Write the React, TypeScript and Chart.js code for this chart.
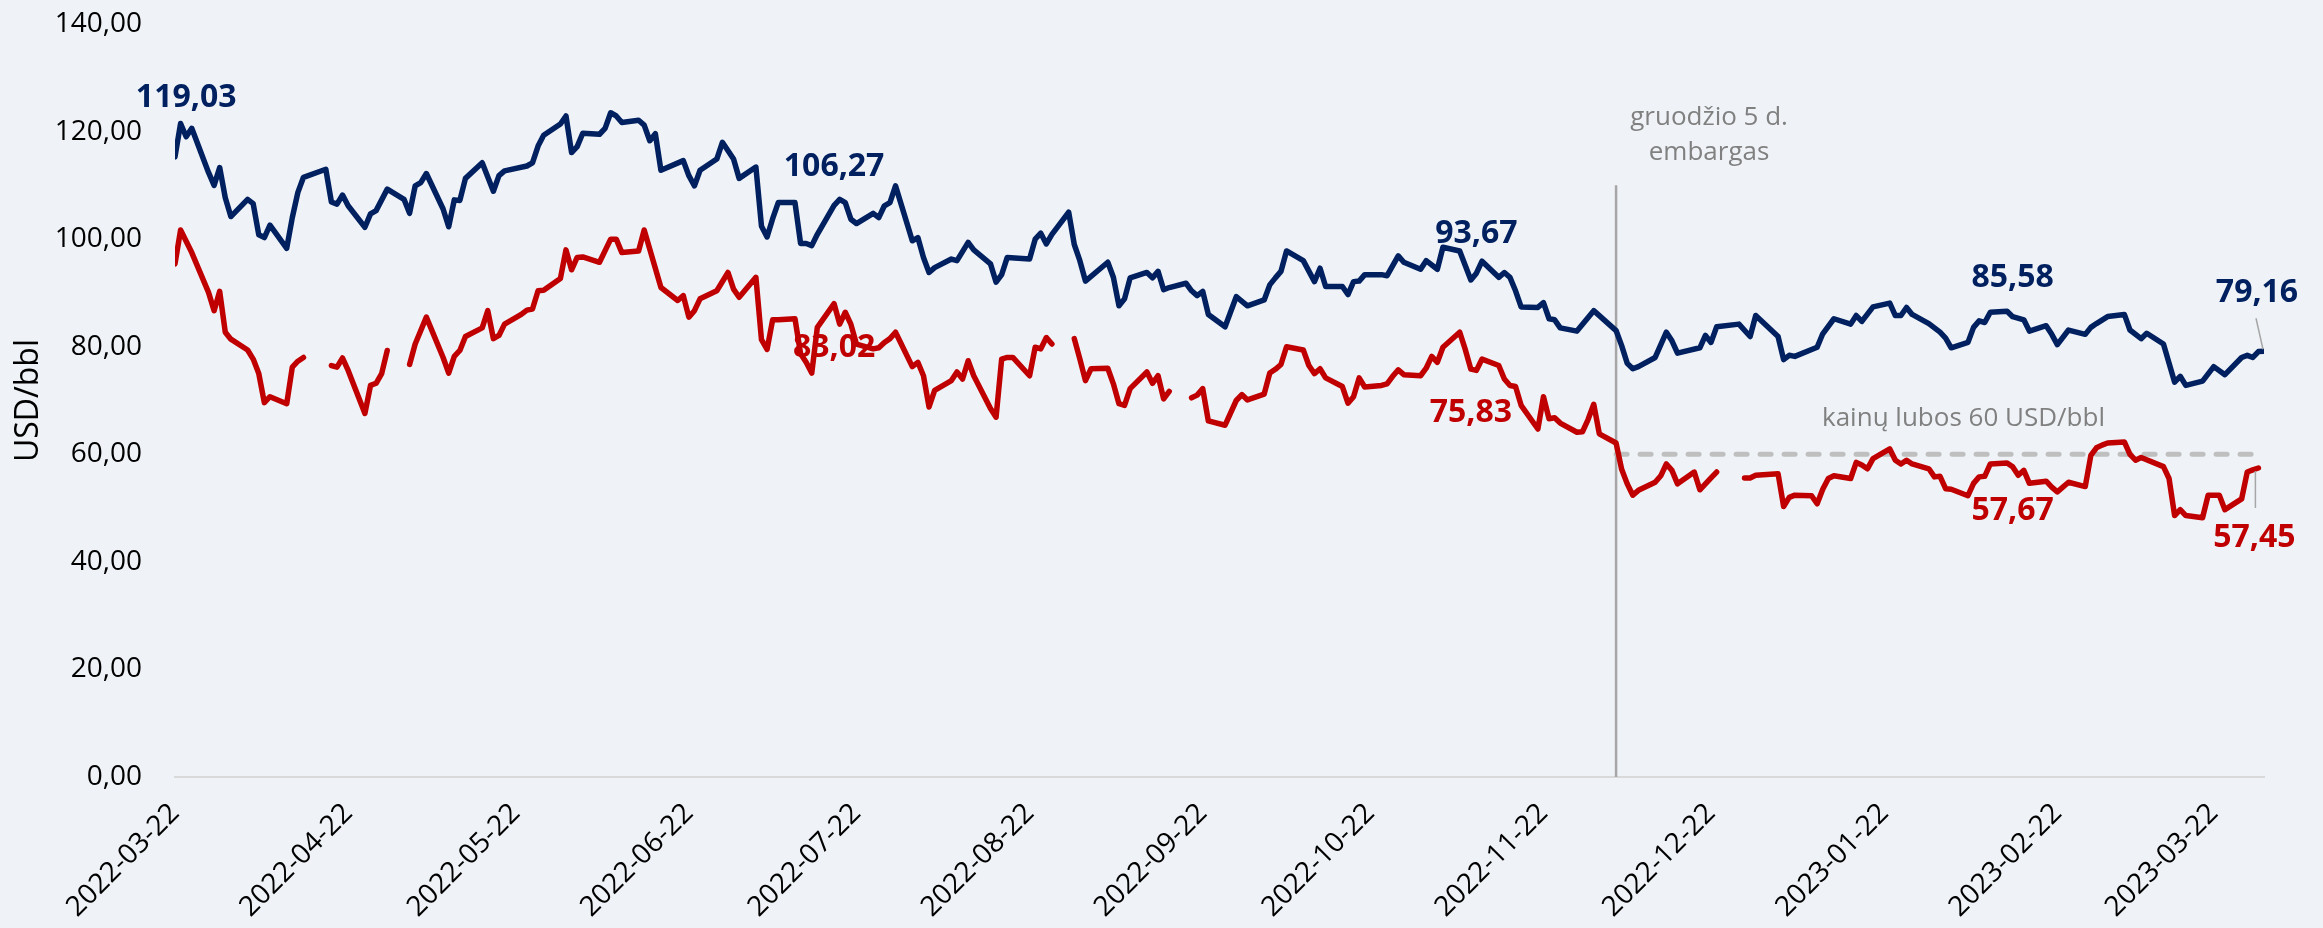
import React, { useEffect, useRef } from "react";
import { Chart, registerables } from "chart.js";

Chart.register(...registerables);

// ---------- data ----------
const startDate = "2022-03-22";
const endDate = "2023-03-31";

const tickDates = [
  "2022-03-22", "2022-04-22", "2022-05-22", "2022-06-22", "2022-07-22", "2022-08-22",
  "2022-09-22", "2022-10-22", "2022-11-22", "2022-12-22", "2023-01-22", "2023-02-22", "2023-03-22",
];

const yTickValues = [0, 20, 40, 60, 80, 100, 120, 140];

const brentDates = [
  "2022-03-22", "2022-03-23", "2022-03-24", "2022-03-25", "2022-03-28", "2022-03-29", "2022-03-30", "2022-03-31",
  "2022-04-01", "2022-04-04", "2022-04-05", "2022-04-06", "2022-04-07", "2022-04-08", "2022-04-11", "2022-04-12",
  "2022-04-13", "2022-04-14", "2022-04-18", "2022-04-19", "2022-04-20", "2022-04-21", "2022-04-22", "2022-04-25",
  "2022-04-26", "2022-04-27", "2022-04-29", "2022-05-02", "2022-05-03", "2022-05-04", "2022-05-05", "2022-05-06",
  "2022-05-09", "2022-05-10", "2022-05-11", "2022-05-12", "2022-05-13", "2022-05-16", "2022-05-18", "2022-05-19",
  "2022-05-20", "2022-05-24", "2022-05-25", "2022-05-26", "2022-05-27", "2022-05-30", "2022-05-31", "2022-06-01",
  "2022-06-02", "2022-06-03", "2022-06-06", "2022-06-07", "2022-06-08", "2022-06-09", "2022-06-10", "2022-06-13",
  "2022-06-14", "2022-06-15", "2022-06-16", "2022-06-17", "2022-06-21", "2022-06-22", "2022-06-23", "2022-06-24",
  "2022-06-27", "2022-06-28", "2022-06-30", "2022-07-01", "2022-07-04", "2022-07-05", "2022-07-06", "2022-07-07",
  "2022-07-08", "2022-07-11", "2022-07-12", "2022-07-13", "2022-07-14", "2022-07-15", "2022-07-18", "2022-07-19",
  "2022-07-20", "2022-07-21", "2022-07-22", "2022-07-25", "2022-07-26", "2022-07-27", "2022-07-28", "2022-07-29",
  "2022-08-01", "2022-08-02", "2022-08-03", "2022-08-04", "2022-08-05", "2022-08-08", "2022-08-09", "2022-08-11",
  "2022-08-12", "2022-08-15", "2022-08-16", "2022-08-17", "2022-08-18", "2022-08-22", "2022-08-23", "2022-08-24",
  "2022-08-25", "2022-08-26", "2022-08-29", "2022-08-30", "2022-08-31", "2022-09-01", "2022-09-05", "2022-09-06",
  "2022-09-07", "2022-09-08", "2022-09-09", "2022-09-12", "2022-09-13", "2022-09-14", "2022-09-15", "2022-09-16",
  "2022-09-19", "2022-09-20", "2022-09-21", "2022-09-22", "2022-09-23", "2022-09-26", "2022-09-28", "2022-09-30",
  "2022-10-03", "2022-10-04", "2022-10-05", "2022-10-06", "2022-10-07", "2022-10-10", "2022-10-12", "2022-10-13",
  "2022-10-14", "2022-10-17", "2022-10-18", "2022-10-19", "2022-10-20", "2022-10-21", "2022-10-24", "2022-10-25",
  "2022-10-27", "2022-10-28", "2022-10-31", "2022-11-01", "2022-11-03", "2022-11-04", "2022-11-07", "2022-11-08",
  "2022-11-09", "2022-11-10", "2022-11-11", "2022-11-14", "2022-11-15", "2022-11-16", "2022-11-17", "2022-11-18",
  "2022-11-21", "2022-11-22", "2022-11-23", "2022-11-24", "2022-11-25", "2022-11-28", "2022-12-01", "2022-12-05",
  "2022-12-06", "2022-12-07", "2022-12-08", "2022-12-09", "2022-12-12", "2022-12-14", "2022-12-15", "2022-12-16",
  "2022-12-20", "2022-12-21", "2022-12-22", "2022-12-23", "2022-12-27", "2022-12-29", "2022-12-30", "2023-01-03",
  "2023-01-04", "2023-01-05", "2023-01-06", "2023-01-10", "2023-01-11", "2023-01-13", "2023-01-16", "2023-01-17",
  "2023-01-18", "2023-01-20", "2023-01-23", "2023-01-24", "2023-01-25", "2023-01-26", "2023-01-27", "2023-01-30",
  "2023-02-01", "2023-02-02", "2023-02-03", "2023-02-06", "2023-02-07", "2023-02-08", "2023-02-09", "2023-02-10",
  "2023-02-13", "2023-02-14", "2023-02-16", "2023-02-17", "2023-02-20", "2023-02-21", "2023-02-22", "2023-02-24",
  "2023-02-27", "2023-02-28", "2023-03-01", "2023-03-03", "2023-03-06", "2023-03-07", "2023-03-09", "2023-03-10",
  "2023-03-13", "2023-03-15", "2023-03-16", "2023-03-17", "2023-03-20", "2023-03-22", "2023-03-24", "2023-03-27",
  "2023-03-28", "2023-03-29", "2023-03-30", "2023-03-31",
];

const brentValues = [
  115.3, 121.5, 119.03, 120.6, 112.4, 110.0, 113.3, 107.7,
  104.2, 107.4, 106.6, 100.8, 100.3, 102.6, 98.3, 104.0,
  108.7, 111.5, 113.0, 106.9, 106.5, 108.2, 106.2, 102.2,
  104.7, 105.3, 109.3, 107.4, 104.8, 109.9, 110.5, 112.2,
  105.6, 102.3, 107.3, 107.2, 111.3, 114.2, 108.9, 111.8,
  112.7, 113.6, 114.2, 117.3, 119.3, 121.4, 122.9, 116.1,
  117.2, 119.7, 119.5, 120.6, 123.5, 122.9, 121.7, 122.1,
  121.2, 118.3, 119.6, 112.8, 114.6, 111.8, 109.9, 112.8,
  114.9, 118.0, 114.9, 111.3, 113.4, 102.4, 100.4, 103.8,
  106.8, 106.8, 99.2, 99.2, 98.8, 100.9, 106.27, 107.4,
  106.8, 103.7, 102.9, 104.8, 104.0, 106.2, 106.8, 109.9,
  99.7, 100.3, 96.6, 93.8, 94.7, 96.3, 96.0, 99.4,
  98.0, 95.4, 92.0, 93.4, 96.6, 96.3, 100.0, 101.1,
  99.1, 100.9, 105.0, 99.0, 96.0, 92.2, 95.7, 92.9,
  87.6, 88.9, 92.8, 93.8, 92.8, 94.0, 90.6, 91.0,
  91.8, 90.4, 89.5, 90.3, 86.0, 83.7, 89.3, 87.6,
  88.7, 91.5, 92.8, 94.0, 97.8, 96.0, 92.1, 94.6,
  91.2, 91.2, 89.7, 92.1, 92.2, 93.4, 93.4, 93.2,
  96.9, 95.7, 94.4, 96.0, 94.4, 98.5, 97.8, 95.1,
  92.4, 93.67, 95.9, 92.9, 93.8, 92.9, 90.4, 87.4,
  87.3, 88.2, 85.2, 85.0, 83.5, 82.9, 86.7, 83.0,
  80.2, 76.9, 75.9, 76.3, 78.0, 82.7, 81.1, 78.8,
  79.8, 82.1, 80.8, 83.7, 84.2, 81.9, 85.8, 81.9,
  77.6, 78.4, 78.2, 79.9, 82.4, 85.2, 84.2, 85.8,
  84.7, 87.4, 88.1, 85.8, 85.8, 87.3, 86.0, 84.3,
  82.7, 81.6, 79.8, 80.8, 83.6, 84.8, 84.5, 86.4,
  86.6, 85.58, 85.0, 82.9, 83.9, 82.3, 80.4, 83.1,
  82.3, 83.6, 84.3, 85.6, 86.0, 83.1, 81.5, 82.5,
  80.5, 73.4, 74.5, 72.8, 73.6, 76.3, 74.8, 78.0,
  78.4, 78.0, 79.1, 79.16,
];

const uralsDates = [
  "2022-03-22", "2022-03-23", "2022-03-25", "2022-03-28", "2022-03-29", "2022-03-30", "2022-03-31", "2022-04-01",
  "2022-04-04", "2022-04-05", "2022-04-06", "2022-04-07", "2022-04-08", "2022-04-11", "2022-04-12", "2022-04-13",
  "2022-04-14", "2022-04-18", "2022-04-19", "2022-04-20", "2022-04-21", "2022-04-22", "2022-04-25", "2022-04-26",
  "2022-04-27", "2022-04-28", "2022-04-29", "2022-05-02", "2022-05-03", "2022-05-04", "2022-05-06", "2022-05-09",
  "2022-05-10", "2022-05-11", "2022-05-12", "2022-05-13", "2022-05-16", "2022-05-17", "2022-05-18", "2022-05-19",
  "2022-05-20", "2022-05-23", "2022-05-24", "2022-05-25", "2022-05-26", "2022-05-27", "2022-05-30", "2022-05-31",
  "2022-06-01", "2022-06-02", "2022-06-03", "2022-06-06", "2022-06-08", "2022-06-09", "2022-06-10", "2022-06-13",
  "2022-06-14", "2022-06-17", "2022-06-20", "2022-06-21", "2022-06-22", "2022-06-23", "2022-06-24", "2022-06-27",
  "2022-06-29", "2022-06-30", "2022-07-01", "2022-07-04", "2022-07-05", "2022-07-06", "2022-07-07", "2022-07-08",
  "2022-07-11", "2022-07-12", "2022-07-13", "2022-07-14", "2022-07-15", "2022-07-18", "2022-07-19", "2022-07-20",
  "2022-07-21", "2022-07-22", "2022-07-25", "2022-07-26", "2022-07-27", "2022-07-28", "2022-07-29", "2022-08-01",
  "2022-08-02", "2022-08-03", "2022-08-04", "2022-08-05", "2022-08-08", "2022-08-09", "2022-08-10", "2022-08-11",
  "2022-08-12", "2022-08-15", "2022-08-16", "2022-08-17", "2022-08-18", "2022-08-19", "2022-08-22", "2022-08-23",
  "2022-08-24", "2022-08-25", "2022-08-26", "2022-08-29", "2022-08-30", "2022-08-31", "2022-09-01", "2022-09-02",
  "2022-09-05", "2022-09-06", "2022-09-07", "2022-09-08", "2022-09-09", "2022-09-12", "2022-09-13", "2022-09-14",
  "2022-09-15", "2022-09-16", "2022-09-19", "2022-09-20", "2022-09-21", "2022-09-22", "2022-09-23", "2022-09-26",
  "2022-09-28", "2022-09-29", "2022-09-30", "2022-10-03", "2022-10-04", "2022-10-05", "2022-10-06", "2022-10-07",
  "2022-10-10", "2022-10-11", "2022-10-12", "2022-10-13", "2022-10-14", "2022-10-17", "2022-10-18", "2022-10-19",
  "2022-10-20", "2022-10-21", "2022-10-24", "2022-10-25", "2022-10-26", "2022-10-27", "2022-10-28", "2022-10-31",
  "2022-11-01", "2022-11-02", "2022-11-03", "2022-11-04", "2022-11-07", "2022-11-08", "2022-11-09", "2022-11-10",
  "2022-11-11", "2022-11-14", "2022-11-15", "2022-11-16", "2022-11-17", "2022-11-18", "2022-11-21", "2022-11-22",
  "2022-11-23", "2022-11-24", "2022-11-25", "2022-11-28", "2022-11-29", "2022-11-30", "2022-12-01", "2022-12-02",
  "2022-12-05", "2022-12-06", "2022-12-07", "2022-12-08", "2022-12-09", "2022-12-12", "2022-12-13", "2022-12-14",
  "2022-12-15", "2022-12-16", "2022-12-19", "2022-12-20", "2022-12-21", "2022-12-22", "2022-12-23", "2022-12-27",
  "2022-12-28", "2022-12-29", "2022-12-30", "2023-01-03", "2023-01-04", "2023-01-05", "2023-01-06", "2023-01-09",
  "2023-01-10", "2023-01-11", "2023-01-12", "2023-01-13", "2023-01-16", "2023-01-17", "2023-01-18", "2023-01-19",
  "2023-01-20", "2023-01-23", "2023-01-24", "2023-01-25", "2023-01-26", "2023-01-27", "2023-01-30", "2023-01-31",
  "2023-02-01", "2023-02-02", "2023-02-03", "2023-02-06", "2023-02-07", "2023-02-08", "2023-02-09", "2023-02-10",
  "2023-02-13", "2023-02-14", "2023-02-15", "2023-02-16", "2023-02-17", "2023-02-20", "2023-02-21", "2023-02-22",
  "2023-02-24", "2023-02-27", "2023-02-28", "2023-03-01", "2023-03-02", "2023-03-03", "2023-03-06", "2023-03-07",
  "2023-03-08", "2023-03-09", "2023-03-13", "2023-03-14", "2023-03-15", "2023-03-16", "2023-03-17", "2023-03-20",
  "2023-03-21", "2023-03-23", "2023-03-24", "2023-03-27", "2023-03-28", "2023-03-29", "2023-03-30",
];

const uralsValues: (number | null)[] = [
  95.4, 101.7, 97.5, 90.1, 86.7, 90.3, 82.7, 81.4,
  79.4, 77.7, 75.0, 69.6, 70.7, 69.4, 76.2, 77.3,
  78.0, null, 76.5, 76.2, 77.9, 75.6, 67.6, 72.8,
  73.2, 75.0, 79.3, null, 76.7, 80.5, 85.5, 78.0,
  75.1, 78.2, 79.3, 81.9, 83.5, 86.7, 81.5, 82.1,
  84.2, 86.0, 86.8, 87.0, 90.4, 90.5, 92.7, 98.0,
  94.3, 96.6, 96.7, 95.7, 100.0, 100.0, 97.5, 97.8,
  101.7, 91.0, 88.6, 89.5, 85.5, 86.7, 88.9, 90.4,
  93.8, 90.7, 89.2, 92.9, 81.3, 79.5, 85.0, 85.0,
  85.2, 78.7, 77.1, 75.1, 83.6, 88.0, 84.2, 86.4,
  84.2, 80.5, 79.6, 79.8, 80.8, 81.5, 82.7, 76.3,
  77.1, 74.6, 68.8, 71.9, 73.7, 75.3, 74.0, 77.4,
  74.6, 68.5, 66.9, 77.7, 78.0, 78.0, 74.6, 79.9,
  79.6, 81.7, 80.5, null, 81.5, 77.7, 73.7, 75.9,
  76.0, 73.1, 69.4, 69.1, 72.2, 75.3, 73.2, 74.6,
  70.3, 71.7, null, 70.5, 71.0, 72.2, 66.2, 65.4,
  70.0, 71.1, 70.1, 71.2, 75.1, 75.8, 76.7, 80.0,
  79.4, 76.5, 75.0, 75.9, 74.2, 72.6, 69.5, 70.7,
  74.2, 72.5, 72.8, 73.1, 74.5, 75.7, 74.8, 74.6,
  76.0, 78.2, 77.1, 79.9, 82.7, 79.5, 75.83, 75.6,
  77.7, 76.5, 74.0, 72.8, 72.6, 69.1, 64.7, 70.7,
  66.6, 66.8, 65.8, 64.1, 64.2, 66.5, 69.3, 63.8,
  62.1, 57.2, 54.5, 52.4, 53.3, 54.8, 56.0, 58.2,
  57.0, 54.5, 56.7, 53.4, 54.5, 55.6, 56.7, null,
  55.6, 55.6, 56.1, 56.4, 50.3, 52.0, 52.4, 52.3,
  50.8, 53.5, 55.5, 56.0, 55.5, 58.5, 58.0, 57.3,
  59.2, 61.0, 58.9, 58.2, 58.9, 58.2, 57.3, 55.8,
  55.9, 53.6, 53.5, 52.3, 54.6, 55.8, 55.9, 58.2,
  58.4, 57.67, 56.1, 57.0, 54.6, 55.0, 53.9, 53.0,
  54.8, 54.0, 59.8, 61.2, 61.7, 62.1, 62.3, 60.0,
  58.9, 59.4, 57.7, 55.5, 48.6, 49.7, 48.6, 48.2,
  52.4, 52.4, 49.7, 51.7, 56.7, 57.1, 57.45,
];

// value labels (text shown next to selected points)
const brentLabelDates = ["2022-03-24", "2022-07-18", "2022-11-10", "2023-02-14", "2023-03-31"];
const brentLabelTexts = ["119,03", "106,27", "93,67", "85,58", "79,16"];
const uralsLabelDates = ["2022-07-18", "2022-11-09", "2023-02-14", "2023-03-30"];
const uralsLabelTexts = ["83,02", "75,83", "57,67", "57,45"];

// annotations
const embargoDate = "2022-12-05";
const embargoSpan = [0, 110];
const embargoText = ["gruodžio 5 d.", "embargas"];
const capDates = ["2022-12-05", "2023-03-30"];
const capValues = [60, 60];
const capText = "kainų lubos 60 USD/bbl";
const yAxisTitle = "USD/bbl";

// ---------- helpers / styles ----------
const dayOf = (d: string) =>
  Math.round((Date.parse(d + "T00:00:00Z") - Date.parse(startDate + "T00:00:00Z")) / 86400000);

const BG = "#eff3f7";
const BLUE = "#002060";
const RED = "#c00000";
const GREY_TEXT = "#808080";
const FONT = '"Open Sans", "DejaVu Sans", sans-serif';

const W = 2323;
const H = 928;

const brentOffsets = [
  { dx: 0, dy: -39 },
  { dx: 0, dy: -39 },
  { dx: 0, dy: -39 },
  { dx: 0, dy: -39 },
  { dx: -7, dy: -58, leader: [-8, -33, -1, -2] },
];
const uralsOffsets = [
  { dx: 0, dy: 44 },
  { dx: 0, dy: 44 },
  { dx: 0, dy: 44 },
  { dx: -4, dy: 70, leader: [-3, 3, -3, 40] },
];

const fmt = (v: number) => v.toFixed(2).replace(".", ",");

export default function App() {
  const ref = useRef<HTMLCanvasElement | null>(null);

  useEffect(() => {
    document.body.style.margin = "0";
    document.body.style.background = BG;
    const canvas = ref.current;
    if (!canvas) return;

    const brentData = brentDates.map((d, i) => ({ x: dayOf(d), y: brentValues[i] }));
    const uralsData = uralsDates.map((d, i) => ({ x: dayOf(d), y: uralsValues[i] }));
    const embargoData = embargoSpan.map((v) => ({ x: dayOf(embargoDate), y: v }));
    const capData = capDates.map((d, i) => ({ x: dayOf(d), y: capValues[i] }));
    const tickDays = tickDates.map(dayOf);

    const bgPlugin = {
      id: "bg",
      beforeDraw(chart: any) {
        const { ctx } = chart;
        ctx.save();
        ctx.fillStyle = BG;
        ctx.fillRect(0, 0, chart.width, chart.height);
        ctx.restore();
      },
    };

    const annotationPlugin = {
      id: "annotations",
      afterDatasetsDraw(chart: any) {
        const { ctx } = chart;
        const xs = chart.scales.x;
        const ys = chart.scales.y;
        ctx.save();

        // embargo text
        const ex = xs.getPixelForValue(dayOf(embargoDate));
        const topY = ys.getPixelForValue(140);
        ctx.fillStyle = GREY_TEXT;
        ctx.font = `26px ${FONT}`;
        ctx.textAlign = "center";
        ctx.textBaseline = "middle";
        ctx.fillText(embargoText[0], ex + 93, topY + 94);
        ctx.fillText(embargoText[1], ex + 93, topY + 129);

        // cap text
        const cy = ys.getPixelForValue(capValues[0]);
        ctx.textAlign = "right";
        ctx.fillText(capText, chart.chartArea.right - 159, cy - 36);

        // value labels
        const drawLabels = (
          dates: string[],
          texts: string[],
          offs: any[],
          sDates: string[],
          sValues: (number | null)[],
          color: string
        ) => {
          dates.forEach((d, i) => {
            const idx = sDates.indexOf(d);
            const v = sValues[idx] as number;
            const px = xs.getPixelForValue(dayOf(d));
            const py = ys.getPixelForValue(v);
            const o = offs[i];
            if (o.leader) {
              ctx.strokeStyle = "#a6a6a6";
              ctx.lineWidth = 1.5;
              ctx.beginPath();
              ctx.moveTo(px + o.leader[0], py + o.leader[1]);
              ctx.lineTo(px + o.leader[2], py + o.leader[3]);
              ctx.stroke();
            }
            ctx.fillStyle = color;
            ctx.font = `bold 32px ${FONT}`;
            ctx.textAlign = "center";
            ctx.textBaseline = "middle";
            ctx.fillText(texts[i], px + o.dx, py + o.dy);
          });
        };
        drawLabels(brentLabelDates, brentLabelTexts, brentOffsets, brentDates, brentValues, BLUE);
        drawLabels(uralsLabelDates, uralsLabelTexts, uralsOffsets, uralsDates, uralsValues, RED);
        ctx.restore();
      },
    };

    const chart = new Chart(canvas, {
      type: "line",
      data: {
        datasets: [
          {
            label: "Brent",
            data: brentData,
            borderColor: BLUE,
            borderWidth: 5.5,
            pointRadius: 0,
            tension: 0,
            borderJoinStyle: "round",
            borderCapStyle: "round",
          },
          {
            label: "Urals",
            data: uralsData,
            borderColor: RED,
            borderWidth: 5.5,
            pointRadius: 0,
            tension: 0,
            spanGaps: false,
            borderJoinStyle: "round",
            borderCapStyle: "round",
          },
          {
            label: "cap",
            data: capData,
            borderColor: "#bfbfbf",
            borderWidth: 5,
            borderDash: [11, 13],
            borderCapStyle: "round",
            pointRadius: 0,
          },
          {
            label: "embargo",
            data: embargoData,
            borderColor: "#a6a6a6",
            borderWidth: 2.5,
            pointRadius: 0,
          },
        ],
      },
      options: {
        animation: false,
        responsive: false,
        devicePixelRatio: 1,
        layout: { padding: { top: 24, right: 59, left: 0, bottom: 0 } },
        plugins: {
          legend: { display: false },
          tooltip: { enabled: false },
        },
        scales: {
          x: {
            type: "linear",
            min: 0,
            max: dayOf(endDate),
            afterBuildTicks: (scale: any) => {
              scale.ticks = tickDays.map((v) => ({ value: v }));
            },
            afterFit: (scale: any) => {
              scale.height = 151;
            },
            grid: { display: false, drawTicks: false },
            border: { display: true, color: "#d9d9d9", width: 2 },
            ticks: {
              autoSkip: false,
              maxRotation: 45,
              minRotation: 45,
              padding: 20,
              color: "#000",
              font: { family: FONT, size: 28 },
              callback: (v: any) => {
                const i = tickDays.indexOf(Number(v));
                return i >= 0 ? tickDates[i] : "";
              },
            },
          },
          y: {
            type: "linear",
            min: 0,
            max: 140,
            afterBuildTicks: (scale: any) => {
              scale.ticks = yTickValues.map((v) => ({ value: v }));
            },
            afterFit: (scale: any) => {
              scale.width = 175;
              scale.paddingTop = 0;
              scale.paddingBottom = 0;
            },
            grid: { display: false, drawTicks: false },
            border: { display: false },
            title: {
              display: true,
              text: yAxisTitle,
              color: "#000",
              font: { family: FONT, size: 32 },
              padding: { top: 10, bottom: 0 },
            },
            ticks: {
              padding: 33,
              color: "#000",
              font: { family: FONT, size: 28 },
              callback: (v: any) => fmt(Number(v)),
            },
          },
        },
      },
      plugins: [bgPlugin, annotationPlugin],
    } as any);

    return () => chart.destroy();
  }, []);

  return (
    <div style={{ width: W, height: H, background: BG }}>
      <canvas ref={ref} width={W} height={H} style={{ display: "block", width: W, height: H }} />
    </div>
  );
}
